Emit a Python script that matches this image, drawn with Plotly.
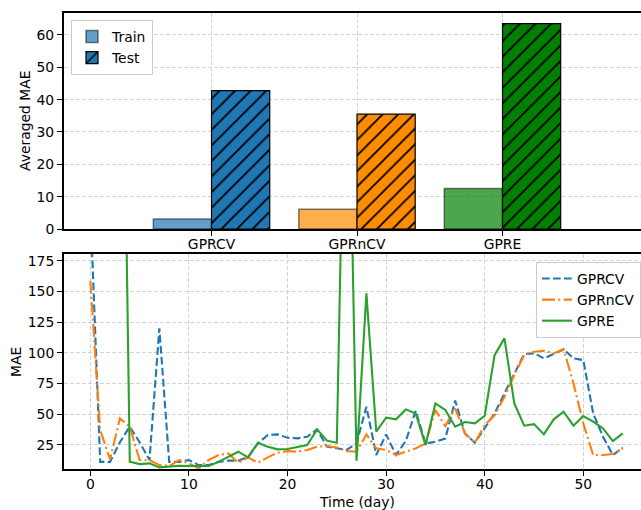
import plotly.graph_objects as go

# ---- averaged MAE per model (top panel) ----
models = ["GPRCV", "GPRnCV", "GPRE"]
train_mae = [3.1, 6.1, 12.5]
test_mae = [42.8, 35.5, 63.5]
train_colors = ["rgba(31,119,180,0.7)", "rgba(255,140,0,0.7)", "rgba(0,128,0,0.7)"]
test_colors = ["#1f77b4", "#ff8c00", "#008000"]

# ---- daily MAE over the test period (bottom panel) ----
days = list(range(55))
mae_gprcv = [220, 11, 11, 27, 39.7, 27, 12.5, 119.8, 11, 11,
             12.5, 8.4, 8.4, 11, 12, 12, 15, 26, 32.9, 33.4,
             30.7, 30.2, 31.5, 37.5, 23.4, 22, 20.7, 26, 56, 16.6,
             33.4, 16.6, 28, 52.7, 26, 27.4, 30, 61, 34, 26.6,
             38.3, 50.5, 66.8, 83, 98.9, 99.5, 95.4, 99, 102.7, 95.4,
             94, 50.5, 31.5, 16.6, 22.6]
mae_gprncv = [158.7, 37, 13, 46.5, 39.7, 12.5, 12.5, 8.4, 7.6, 12.5,
              9.8, 5.7, 12.5, 16.6, 17.9, 10.3, 14.7, 10.3, 14.7, 18.5,
              19.8, 19.3, 20.7, 23.4, 24, 22.8, 19.8, 19.3, 33.4, 22,
              20.7, 16.6, 19.3, 22, 26, 53.3, 40.2, 54.6, 34.2, 26.6,
              41, 49, 64, 81.8, 98, 100.8, 101.6, 99.5, 103, 75,
              42.4, 16.6, 16.6, 17.4, 22]
mae_gpre = [350, 320, 290, 560, 11.1, 9.2, 9.8, 6.5, 7, 7.9,
            7.6, 7.6, 7.6, 11, 15.2, 19.3, 14.7, 26.6, 23.4, 21.2,
            21.5, 23.4, 24.7, 37.5, 28.3, 26.6, 430, 12, 148.4, 35.6,
            47, 45.7, 53.8, 50.5, 24.7, 58.7, 53.3, 39.7, 43.5, 42.4,
            48.6, 98, 111.7, 58.7, 40.5, 41.8, 33.4, 45.7, 51.9, 40.5,
            48.4, 43.8, 38.3, 28, 34.2]

W, H = 641, 510
FONT = "DejaVu Sans"
FS = 13.9


def px_x(p):
    return p / W


def px_y(p):
    return 1 - p / H


fig = go.Figure()

# one bar per model so every bar keeps its own colour and hatch;
# offsetgroup keeps train/test side by side within each model slot
for i, model in enumerate(models):
    fig.add_trace(go.Bar(
        x=[i], y=[train_mae[i]], name="Train", xaxis="x", yaxis="y",
        legend="legend", legendgroup="train", showlegend=(i == 0),
        offsetgroup="train", legendrank=1,
        marker=dict(color=train_colors[i],
                    line=dict(color="rgba(0,0,0,0.5)", width=1.5)),
    ))
for i, model in enumerate(models):
    fig.add_trace(go.Bar(
        x=[i], y=[test_mae[i]], name="Test", xaxis="x", yaxis="y",
        legend="legend", legendgroup="test", showlegend=(i == 0),
        offsetgroup="test", legendrank=2,
        marker=dict(color=test_colors[i], line=dict(color="black", width=1.2),
                    pattern=dict(shape="/", fillmode="replace",
                                 bgcolor=test_colors[i], fgcolor="black",
                                 fgopacity=1, size=11, solidity=0.17)),
    ))

line_specs = [
    ("GPRCV", mae_gprcv, "#1f77b4", "7.7px,3.3px"),
    ("GPRnCV", mae_gprncv, "#ff7f0e", "13px,3.3px,2px,3.3px"),
    ("GPRE", mae_gpre, "#2ca02c", "solid"),
]
for name, vals, color, dash in line_specs:
    fig.add_trace(go.Scatter(
        x=days, y=vals, name=name, mode="lines", xaxis="x2", yaxis="y2",
        legend="legend2", line=dict(color=color, width=2.1, dash=dash),
    ))

axis_common = dict(
    showline=True, linecolor="black", linewidth=2, automargin=False,
    ticks="outside", ticklen=5, tickwidth=1.2, tickcolor="black",
    showgrid=True, gridcolor="#d4d4d4", griddash="4px,2px", gridwidth=1,
    zeroline=False, tickfont=dict(family=FONT, size=FS, color="black"),
)

x0 = px_x(64)
fig.update_layout(
    width=W, height=H, autosize=False,
    margin=dict(l=0, r=0, t=0, b=0, pad=0),
    paper_bgcolor="white", plot_bgcolor="white",
    font=dict(family=FONT, size=FS, color="black"),
    barmode="group", bargap=0.2, bargroupgap=0,
    xaxis=dict(axis_common, domain=[x0, 1], anchor="y", mirror=True,
               range=[-1.014, 2.952], tickvals=list(range(len(models))),
               ticktext=models, ticklabelstandoff=-4),
    yaxis=dict(axis_common, domain=[px_y(229), px_y(13)], anchor="x",
               range=[0, 66.8], tickvals=[0, 10, 20, 30, 40, 50, 60]),
    xaxis2=dict(axis_common, domain=[x0, 1], anchor="y2", mirror=True,
                range=[-2.67, 55.85], tickvals=[0, 10, 20, 30, 40, 50],
                ticklabelstandoff=-4),
    yaxis2=dict(axis_common, domain=[px_y(469.3), px_y(254)], anchor="x2",
                range=[4.95, 180.5], tickvals=[25, 50, 75, 100, 125, 150, 175]),
    legend=dict(x=px_x(71), y=px_y(20), xanchor="left", yanchor="top",
                bgcolor="white", bordercolor="#cccccc", borderwidth=1,
                font=dict(family=FONT, size=FS), tracegroupgap=0),
    legend2=dict(x=px_x(536), y=px_y(262), xanchor="left", yanchor="top",
                 bgcolor="white", bordercolor="#cccccc", borderwidth=1,
                 font=dict(family=FONT, size=FS), tracegroupgap=0),
    annotations=[
        dict(text="Averaged MAE", x=px_x(25), y=px_y(121), xref="paper", yref="paper",
             xanchor="center", yanchor="middle",
             textangle=-90, showarrow=False, font=dict(family=FONT, size=FS)),
        dict(text="MAE", x=px_x(16), y=px_y(362), xref="paper", yref="paper",
             xanchor="center", yanchor="middle",
             textangle=-90, showarrow=False, font=dict(family=FONT, size=FS)),
        dict(text="Time (day)", x=px_x(357), y=px_y(502), xref="paper", yref="paper",
             xanchor="center", yanchor="middle",
             showarrow=False, font=dict(family=FONT, size=FS)),
    ],
)

fig.write_html("out.html")
